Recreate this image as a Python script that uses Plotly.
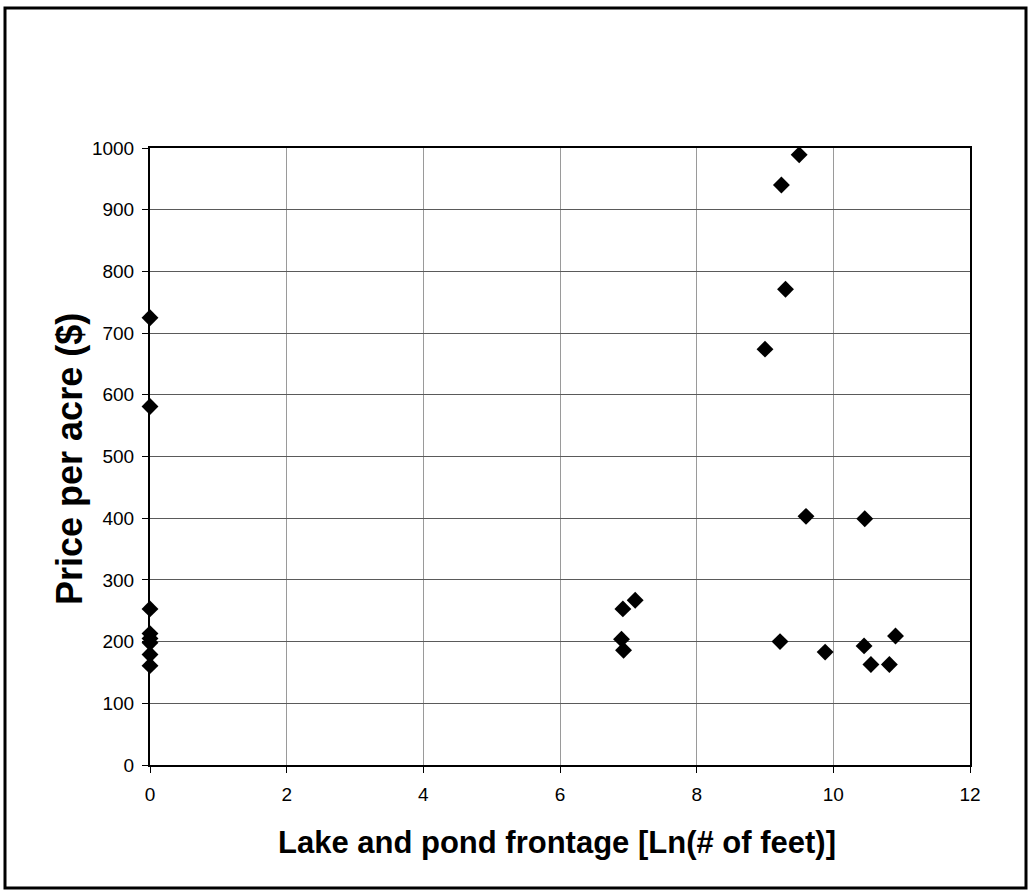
import plotly.graph_objects as go

# Lake and pond frontage (ln of feet) vs. price per acre
frontage_ln = [0, 0, 0, 0, 0, 0, 0, 0,
               6.92, 7.10, 6.90, 6.93,
               9.22, 9.88, 10.45, 10.55, 10.82, 10.91,
               9.50, 9.24, 9.30, 9.00,
               9.60, 10.46]
price_per_acre = [725, 581, 253, 213, 205, 198, 179, 161,
                  253, 267, 204, 186,
                  200, 183, 193, 163, 163, 209,
                  989, 940, 771, 674,
                  403, 399]

x_ticks = [0, 2, 4, 6, 8, 10, 12]
y_ticks = [0, 100, 200, 300, 400, 500, 600, 700, 800, 900, 1000]

x_title = "<b>Lake and pond frontage [Ln(# of feet)]</b>"
y_title = "<b>Price per acre ($)</b>"

W, H = 1029, 893
ML, MR, MT, MB = 150, 59, 148, 128
pw, ph = W - ML - MR, H - MT - MB


def px_x(p):
    return (p - ML) / pw


def px_y(p):
    return (H - MB - p) / ph


fig = go.Figure(go.Scatter(
    x=frontage_ln, y=price_per_acre, mode="markers",
    marker=dict(symbol="diamond", size=13, color="black"),
    cliponaxis=False, showlegend=False,
))

font = "Liberation Sans, Arial, sans-serif"
axis_common = dict(
    showline=True, linecolor="black", linewidth=2, mirror=True,
    showgrid=True, gridwidth=1,
    ticks="outside", ticklen=6, tickcolor="black",
    tickfont=dict(family=font, size=19, color="black"),
    zeroline=False,
)

fig.update_xaxes(range=[0, 12], tickvals=x_ticks, gridcolor="#9a9a9a",
                 ticklabelstandoff=5, **axis_common)
fig.update_yaxes(range=[0, 1000], tickvals=y_ticks, gridcolor="#5a5a5a",
                 ticklabelstandoff=4, **axis_common)

# axis titles
fig.add_annotation(text=x_title, xref="paper", yref="paper",
                   x=px_x(557), y=px_y(842), xanchor="center", yanchor="middle",
                   showarrow=False, font=dict(family=font, size=31, color="black"))
fig.add_annotation(text=y_title, xref="paper", yref="paper", textangle=-90,
                   x=px_x(70), y=px_y(459), xanchor="center", yanchor="middle",
                   showarrow=False, font=dict(family=font, size=36, color="black"))

# outer frame around the whole figure
fig.add_shape(type="rect", xref="paper", yref="paper",
              x0=px_x(5), x1=px_x(1026), y0=px_y(888), y1=px_y(8),
              line=dict(color="black", width=3))

fig.update_layout(
    width=W, height=H,
    margin=dict(l=ML, r=MR, t=MT, b=MB),
    paper_bgcolor="white", plot_bgcolor="white",
    font=dict(family=font, color="black"),
)

fig.write_html("out.html")
